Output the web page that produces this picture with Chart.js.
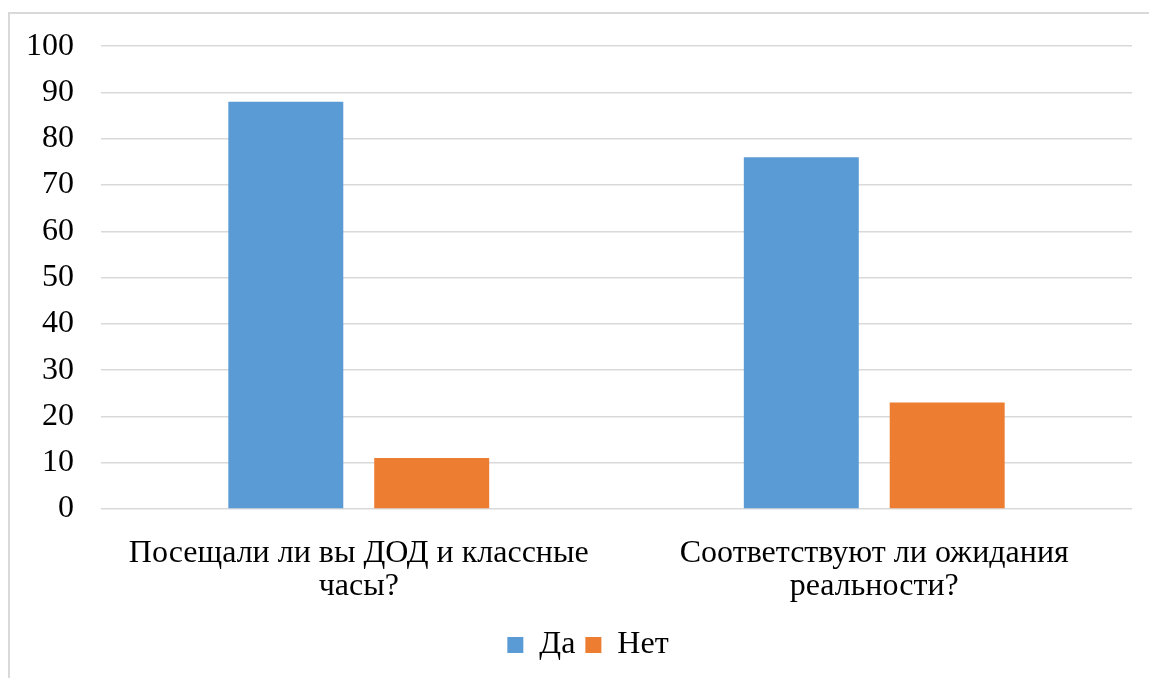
<!DOCTYPE html>
<html>
<head>
<meta charset="utf-8">
<script src="https://cdn.jsdelivr.net/npm/chart.js@4"></script>
<style>
  html, body { margin: 0; padding: 0; background: #fff; overflow: hidden; }
  #frame { position: absolute; left: 8px; top: 12px; width: 1300px; height: 800px;
           border: 2px solid #d9d9d9; box-sizing: border-box; }
  #wrap { position: absolute; left: 0; top: 0; width: 1149px; height: 678px; }
</style>
</head>
<body>
<div id="frame"></div>
<div id="wrap"><canvas id="chart" width="1149" height="678"></canvas></div>
<script>
// DATA
const categories = [
  ["Посещали ли вы ДОД и классные", "часы?"],
  ["Соответствуют ли ожидания", "реальности?"]
];
const seriesNames = ["Да", "Нет"];
const yesValues = [88, 76];
const noValues = [11, 23];
const yTicks = [0, 10, 20, 30, 40, 50, 60, 70, 80, 90, 100];

const FONT = "'Liberation Serif', 'Times New Roman', serif";
const FS = 32;

// shift legend a little to the right, like the original
const legendShift = {
  id: "legendShift",
  afterLayout(chart) {
    chart.legend.left += 22;
    chart.legend.right += 22;
  }
};

const ctx = document.getElementById("chart").getContext("2d");
new Chart(ctx, {
  type: "bar",
  data: {
    labels: categories,
    datasets: [
      { label: seriesNames[0], data: yesValues, backgroundColor: "#5B9BD5", borderWidth: 0,
        categoryPercentage: 0.566, barPercentage: 0.788 },
      { label: seriesNames[1], data: noValues, backgroundColor: "#ED7D31", borderWidth: 0,
        categoryPercentage: 0.566, barPercentage: 0.788 }
    ]
  },
  options: {
    responsive: false,
    animation: false,
    devicePixelRatio: 1,
    layout: { padding: { left: 0, right: 17, top: 44, bottom: 7 } },
    plugins: {
      tooltip: { enabled: false },
      legend: {
        position: "bottom",
        labels: {
          boxWidth: 16, boxHeight: 16, padding: 10,
          color: "#000",
          font: { family: FONT, size: FS }
        }
      }
    },
    scales: {
      x: {
        grid: { display: false },
        border: { display: false },
        ticks: {
          color: "#000", padding: 20, maxRotation: 0, autoSkip: false,
          font: { family: FONT, size: FS, lineHeight: 1.04 }
        },
        afterFit(s) { s.height = 110; }
      },
      y: {
        min: 0, max: 100,
        afterBuildTicks(s) { s.ticks = yTicks.map(v => ({ value: v })); },
        grid: { color: "#d9d9d9", lineWidth: 1.6, drawTicks: false },
        border: { display: false },
        ticks: {
          color: "#000", padding: 27,
          font: { family: FONT, size: FS }
        },
        afterFit(s) { s.width = 101; }
      }
    }
  },
  plugins: [legendShift]
});
</script>
</body>
</html>
